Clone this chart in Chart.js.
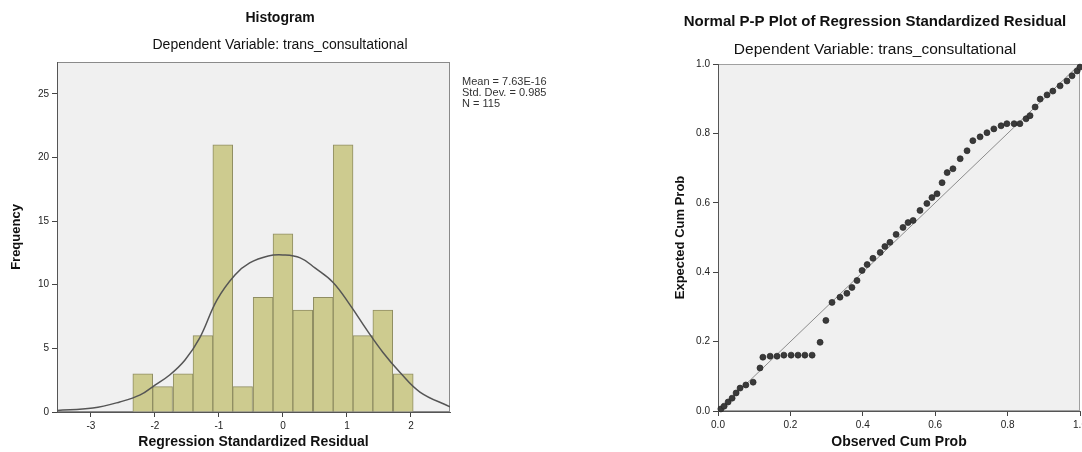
<!DOCTYPE html>
<html>
<head>
<meta charset="utf-8">
<script src="https://cdn.jsdelivr.net/npm/chart.js@4.4.1/dist/chart.umd.min.js"></script>
<style>
html,body{margin:0;padding:0;width:1082px;height:452px;overflow:hidden;background:#fff}
#w1{position:absolute;left:0;top:0;width:560px;height:452px}
#w2{position:absolute;left:560px;top:0;width:630px;height:452px}
canvas{display:block}
</style>
</head>
<body>
<div id="w1"><canvas id="c1" width="560" height="452"></canvas></div>
<div id="w2"><canvas id="c2" width="630" height="452"></canvas></div>
<script>
// ---------- Histogram data ----------
const histBinCenters = [-2.19,-1.88,-1.56,-1.25,-0.94,-0.63,-0.31,0,0.31,0.63,0.94,1.25,1.56,1.88];
const histCounts     = [3,2,3,6,21,2,9,14,8,9,21,6,8,3];
const curveX = [-3.53,-2.97,-2.55,-2.23,-2.0,-1.77,-1.53,-1.30,-1.03,-0.75,-0.52,-0.23,0,0.27,0.50,0.78,1.05,1.31,1.56,1.83,2.14,2.61];
const curveY = [0.12,0.31,0.79,1.34,2.12,2.91,4.09,5.82,8.81,10.77,11.71,12.26,12.34,12.11,11.32,10.2,8.4,6.45,4.7,3.1,1.57,0.4];
const histXTicks = [-3,-2,-1,0,1,2];
const histYTicks = [0,5,10,15,20,25];
const histStats  = ['Mean = 7.63E-16','Std. Dev. = 0.985','N = 115'];
const histTitle = 'Histogram';
const depVar = 'Dependent Variable: trans_consultational';

// ---------- P-P plot data ----------
const ppObserved = [0.008,0.017,0.028,0.039,0.050,0.061,0.077,0.097,0.116,0.124,0.144,0.163,0.182,0.202,0.221,0.240,0.260,0.282,0.298,0.315,0.337,0.356,0.370,0.384,0.398,0.412,0.428,0.448,0.461,0.475,0.492,0.511,0.525,0.539,0.558,0.577,0.591,0.605,0.619,0.633,0.649,0.669,0.688,0.704,0.724,0.743,0.762,0.782,0.798,0.818,0.834,0.851,0.862,0.876,0.890,0.909,0.925,0.945,0.964,0.978,0.992,1.0];
const ppExpected = [0.006,0.014,0.026,0.037,0.052,0.066,0.075,0.083,0.124,0.155,0.158,0.158,0.161,0.161,0.161,0.161,0.161,0.198,0.261,0.313,0.328,0.339,0.356,0.376,0.405,0.422,0.440,0.457,0.474,0.486,0.509,0.529,0.543,0.549,0.578,0.598,0.615,0.626,0.658,0.687,0.698,0.727,0.750,0.779,0.790,0.802,0.813,0.822,0.828,0.828,0.828,0.842,0.851,0.876,0.899,0.911,0.922,0.937,0.951,0.966,0.980,0.991];
const ppTicks = [0,0.2,0.4,0.6,0.8,1.0];
const ppRef = [0,1];
const ppTitle = 'Normal P-P Plot of Regression Standardized Residual';

const F = '"Liberation Sans", Arial, sans-serif';
Chart.defaults.font.family = F;
Chart.defaults.color = '#222';

const bgPlugin = {
  id: 'plotBg',
  beforeDraw(chart, args, opts) {
    const {ctx, chartArea: a} = chart;
    ctx.save();
    ctx.fillStyle = '#f0f0f0';
    ctx.fillRect(a.left, a.top, a.right - a.left, a.bottom - a.top);
    ctx.strokeStyle = opts.stroke || '#a0a0a0';
    ctx.lineWidth = 1;
    ctx.strokeRect(a.left + 0.5, a.top + 0.5, a.right - a.left - 1, a.bottom - a.top - 1);
    ctx.restore();
  }
};
const statsPlugin = {
  id: 'statsBox',
  afterDraw(chart, args, opts) {
    if (!opts.lines) return;
    const {ctx, chartArea: a} = chart;
    ctx.save();
    ctx.font = '11px ' + F;
    ctx.fillStyle = '#333';
    ctx.textBaseline = 'middle';
    opts.lines.forEach((t, i) => ctx.fillText(t, a.right + 12, a.top + 20 + i * 11));
    ctx.restore();
  }
};

function axisCommon(tickVals, fmt) {
  return {
    offset: false,
    grid: {display: true, offset: false, drawOnChartArea: false, drawTicks: true, tickLength: 5, color: '#444', lineWidth: 1},
    border: {display: true, color: '#555', width: 1},
    ticks: {font: {size: 10}, color: '#222', padding: 3, includeBounds: false, autoSkip: false, maxRotation: 0,
            callback: v => fmt(v)},
    afterBuildTicks: s => { s.ticks = tickVals.map(v => ({value: v})); }
  };
}
function spacerAxis(w) {
  return {type: 'linear', position: 'right', display: true, grid: {display: false}, border: {display: false},
          ticks: {display: false}, afterFit: s => { s.width = w; }};
}

// ---------- Histogram ----------
new Chart(document.getElementById('c1'), {
  data: {
    datasets: [
      {type: 'line', data: curveX.map((x, i) => ({x, y: curveY[i]})), borderColor: '#555', borderWidth: 1.5,
       pointRadius: 0, tension: 0.4, order: 0},
      {type: 'bar', data: histBinCenters.map((x, i) => ({x, y: histCounts[i]})), backgroundColor: '#cdcb8f',
       borderColor: '#8f8d62', borderWidth: 1, barPercentage: 1, categoryPercentage: 1, order: 1}
    ]
  },
  options: {
    responsive: false, animation: false, devicePixelRatio: 1,
    layout: {padding: 0},
    scales: {
      x: Object.assign(axisCommon(histXTicks, v => String(v)), {
        type: 'linear', min: -3.53, max: 2.61,
        afterFit: s => { s.height = 40; },
        title: {display: true, text: 'Regression Standardized Residual', font: {size: 14, weight: 'bold'}, color: '#111', padding: {top: 0, bottom: 1.6}}
      }),
      y: Object.assign(axisCommon(histYTicks, v => String(v)), {
        type: 'linear', min: 0, max: 27.5,
        afterFit: s => { s.width = 57; },
        title: {display: true, text: 'Frequency', font: {size: 13, weight: 'bold'}, color: '#111', padding: {top: 8.2, bottom: 0}}
      }),
      yR: spacerAxis(110)
    },
    plugins: {
      legend: {display: false}, tooltip: {enabled: false},
      title: {display: true, text: histTitle, font: {size: 14, weight: 'bold'}, color: '#111', padding: {top: 9.6, bottom: 10}},
      subtitle: {display: true, text: depVar, font: {size: 14}, color: '#111', padding: {top: 0, bottom: 8.8}},
      plotBg: {stroke: '#8a8a8a'},
      statsBox: {lines: histStats}
    }
  },
  plugins: [bgPlugin, statsPlugin]
});

// ---------- P-P plot ----------
new Chart(document.getElementById('c2'), {
  type: 'scatter',
  data: {
    datasets: [
      {type: 'line', data: ppRef.map(v => ({x: v, y: v})), borderColor: '#8c8c8c', borderWidth: 1, pointRadius: 0, order: 1},
      {type: 'scatter', data: ppObserved.map((x, i) => ({x, y: ppExpected[i]})), backgroundColor: '#3a3a3a',
       borderColor: 'rgba(40,40,40,0.7)', borderWidth: 1, pointRadius: 3, clip: false, order: 0}
    ]
  },
  options: {
    responsive: false, animation: false, devicePixelRatio: 1,
    layout: {padding: 0},
    scales: {
      x: Object.assign(axisCommon(ppTicks, v => v.toFixed(1)), {
        type: 'linear', min: 0, max: 1,
        afterFit: s => { s.height = 41; },
        title: {display: true, text: 'Observed Cum Prob', font: {size: 14, weight: 'bold'}, color: '#111', padding: {top: 0, bottom: 1.6}}
      }),
      y: Object.assign(axisCommon(ppTicks, v => v.toFixed(1)), {
        type: 'linear', min: 0, max: 1,
        afterFit: s => { s.width = 158; },
        title: {display: true, text: 'Expected Cum Prob', font: {size: 13, weight: 'bold'}, color: '#111', padding: {top: 112.2, bottom: 0}}
      }),
      yR: spacerAxis(110)
    },
    plugins: {
      legend: {display: false}, tooltip: {enabled: false},
      title: {display: true, text: ppTitle, font: {size: 15, weight: 'bold'}, color: '#111', padding: {top: 12.5, bottom: 10}},
      subtitle: {display: true, text: depVar, font: {size: 15.5}, color: '#111', padding: {top: 0, bottom: 4.9}},
      plotBg: {stroke: '#a0a0a0'}
    }
  },
  plugins: [bgPlugin]
});
</script>
</body>
</html>
